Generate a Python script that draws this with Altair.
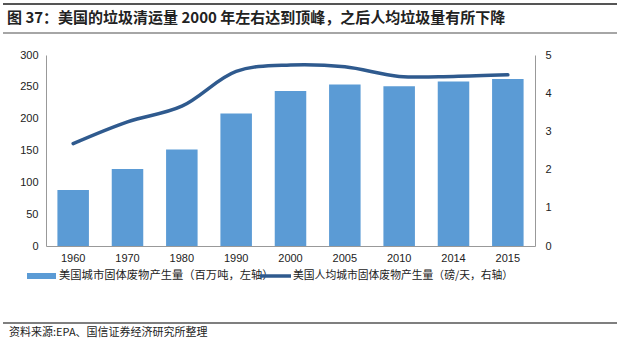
import altair as alt
import pandas as pd

years = ["1960", "1970", "1980", "1990", "2000", "2005", "2010", "2014", "2015"]
msw_total = [88.1, 121.1, 151.6, 208.3, 243.5, 253.7, 251.1, 258.5, 262.4]
msw_per_capita = [2.68, 3.25, 3.66, 4.57, 4.74, 4.69, 4.44, 4.44, 4.48]
title_text = "图 37：美国的垃圾清运量 2000 年左右达到顶峰，之后人均垃圾量有所下降"
legend_bar = "美国城市固体废物产生量（百万吨，左轴）"
legend_line = "美国人均城市固体废物产生量（磅/天，右轴）"
source_text = "资料来源:EPA、国信证券经济研究所整理"

BAR = "#5B9BD5"
LINE = "#2F5A8E"
CJK = "Noto Sans CJK SC"
LAT = "Liberation Sans"

df = pd.DataFrame({"year": years, "total": msw_total, "pc": msw_per_capita})

xenc = alt.X(
    "year:N", sort=years, title=None,
    scale=alt.Scale(paddingInner=0.42, paddingOuter=0.21),
    axis=alt.Axis(labelAngle=0, ticks=False, domainColor="#999999", labelColor="#222222",
                  labelFont=LAT, labelFontSize=11, labelPadding=6),
)

bars = alt.Chart(df).mark_bar(color=BAR).encode(
    x=xenc,
    y=alt.Y("total:Q", title=None,
            scale=alt.Scale(domain=[0, 300], nice=False),
            axis=alt.Axis(values=[0, 50, 100, 150, 200, 250, 300], grid=False, ticks=False,
                          domainColor="#999999", labelColor="#222222", labelFont=LAT,
                          labelFontSize=11, labelPadding=8)),
)

line = alt.Chart(df).mark_line(color=LINE, strokeWidth=3.5, interpolate="catmull-rom",
                               strokeCap="round").encode(
    x=alt.X("year:N", sort=years),
    y=alt.Y("pc:Q", title=None,
            scale=alt.Scale(domain=[0, 5], nice=False),
            axis=alt.Axis(orient="right", values=[0, 1, 2, 3, 4, 5], grid=False, ticks=False,
                          domainColor="#999999", labelColor="#222222", labelFont=LAT,
                          labelFontSize=11, labelPadding=10)),
)

def txt(label, x, y, size, weight="normal", font=CJK, color="#222222"):
    return alt.Chart(pd.DataFrame({"t": [label]})).mark_text(
        align="left", baseline="middle", fontSize=size, fontWeight=weight, font=font, color=color
    ).encode(x=alt.value(x), y=alt.value(y), text="t:N")

def hrule(x1, x2, y, color, w):
    return alt.Chart(pd.DataFrame({"a": [0]})).mark_rule(color=color, strokeWidth=w).encode(
        x=alt.value(x1), x2=alt.value(x2), y=alt.value(y))

title = txt(title_text, -39, -37, 15, "bold")
top_rule = hrule(-43, 571, -51, "#555555", 2)
title_rule = hrule(-43, 571, -22, "#888888", 1.5)

leg_bar = alt.Chart(pd.DataFrame({"a": [0]})).mark_rect(color=BAR).encode(
    x=alt.value(-19), x2=alt.value(10), y=alt.value(218), y2=alt.value(224))
leg_bar_t = txt(legend_bar, 13, 221, 11.3)
leg_line = alt.Chart(pd.DataFrame({"a": [0]})).mark_rule(color=LINE, strokeWidth=3.5).encode(
    x=alt.value(214), x2=alt.value(245), y=alt.value(221))
leg_line_t = txt(legend_line, 247, 221, 10.8)

src_rule = hrule(-43, 571, 268, "#555555", 1.5)
src = txt(source_text, -37, 278, 11)

chart = alt.layer(
    bars, line, title, top_rule, title_rule, leg_bar, leg_bar_t, leg_line, leg_line_t, src_rule, src
).resolve_scale(y="independent").properties(
    width=489, height=191,
    padding={"left": 46, "top": 55, "right": 85, "bottom": 94},
    autosize=alt.AutoSizeParams(type="none"),
    background="white",
).configure_view(stroke=None)

chart.save("out.html", embed_options={"renderer": "svg", "actions": False})
